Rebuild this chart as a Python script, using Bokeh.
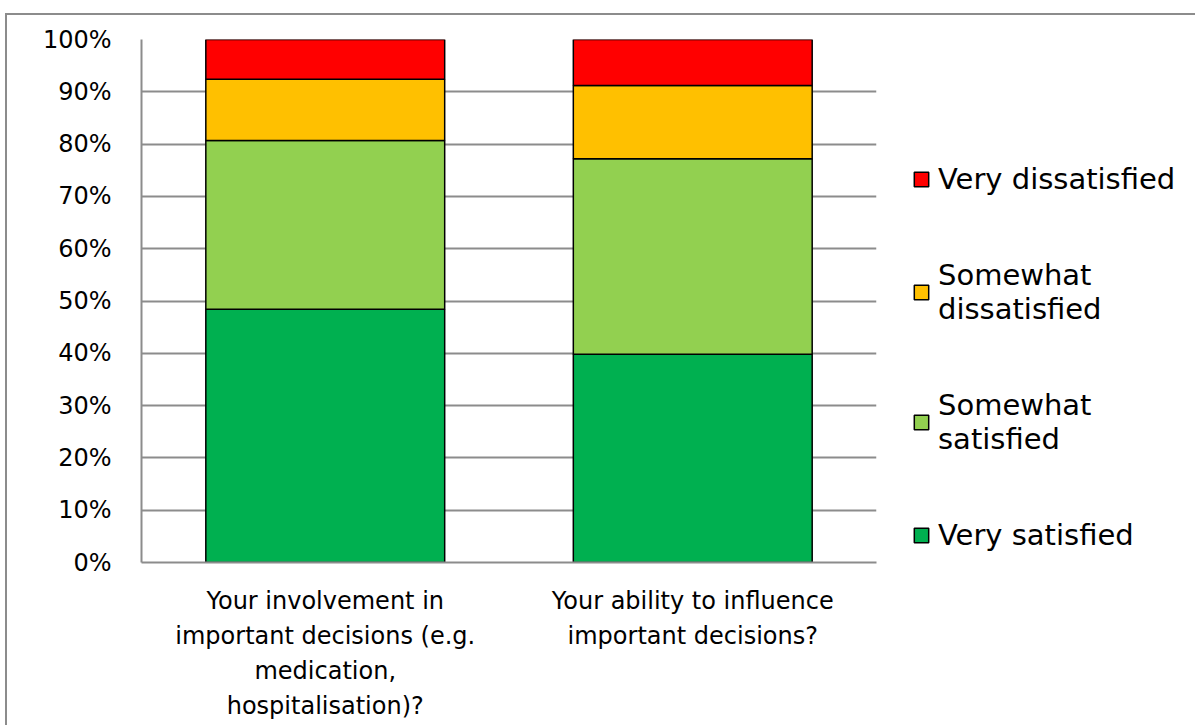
from bokeh.plotting import figure
from bokeh.models import Legend, LegendItem, FactorRange, PrintfTickFormatter, FixedTicker
from bokeh.embed import file_html
from bokeh.resources import INLINE

categories = ["Your involvement in\nimportant decisions (e.g.\nmedication,\nhospitalisation)?",
              "Your ability to influence\nimportant decisions?"]
very_satisfied = [48.4, 39.8]
somewhat_satisfied = [32.3, 37.4]
somewhat_dissatisfied = [11.7, 14.0]
very_dissatisfied = [7.6, 8.8]

series = ["Very satisfied", "Somewhat satisfied", "Somewhat dissatisfied", "Very dissatisfied"]
legend_labels = ["Very satisfied", "Somewhat\nsatisfied", "Somewhat\ndissatisfied", "Very dissatisfied"]
colors = ["#00B050", "#92D050", "#FFC000", "#FF0000"]
y_ticks = [0, 10, 20, 30, 40, 50, 60, 70, 80, 90, 100]

data = {"cat": categories,
        "Very satisfied": very_satisfied,
        "Somewhat satisfied": somewhat_satisfied,
        "Somewhat dissatisfied": somewhat_dissatisfied,
        "Very dissatisfied": very_dissatisfied}

p = figure(x_range=FactorRange(*categories, range_padding=0), y_range=(0, 100),
           frame_width=735, frame_height=523, output_backend="svg", toolbar_location=None,
           min_border_left=134, min_border_top=24, min_border_bottom=163, min_border_right=0,
           margin=(13, 0, 0, 5))
p.styles = {"border-left": "2px solid #8c8c8c", "border-top": "2px solid #8c8c8c"}
p.outline_line_color = None

rs = p.vbar_stack(series, x="cat", width=0.65, source=data, fill_color=colors,
                  line_color="black", line_width=1.5)

p.xgrid.grid_line_color = None
p.ygrid.grid_line_color = "#8c8c8c"
p.ygrid.grid_line_width = 2
p.yaxis.ticker = FixedTicker(ticks=y_ticks)
p.yaxis.formatter = PrintfTickFormatter(format="%d%%")
p.yaxis.minor_tick_line_color = None
p.yaxis.major_tick_line_color = None
p.yaxis.major_tick_out = 0
p.yaxis.major_label_standoff = 30
p.yaxis.axis_line_color = "#8c8c8c"
p.yaxis.axis_line_width = 2
p.yaxis.major_label_text_font = "DejaVu Sans"
p.yaxis.major_label_text_font_size = "24px"
p.yaxis.major_label_text_color = "black"

p.xaxis.major_tick_line_color = None
p.xaxis.major_tick_out = 0
p.xaxis.axis_line_color = "#8c8c8c"
p.xaxis.axis_line_width = 2
p.xaxis.major_label_standoff = 24
p.xaxis.major_label_text_font = "DejaVu Sans"
p.xaxis.major_label_text_font_size = "24px"
p.xaxis.major_label_text_line_height = 1.25
p.xaxis.major_label_text_color = "black"

items = [LegendItem(label=legend_labels[i], renderers=[rs[i]]) for i in range(3, -1, -1)]
legend = Legend(items=items, location=(36, 10), padding=0, margin=0, spacing=62,
                glyph_width=18, glyph_height=18, label_standoff=8,
                label_text_font="DejaVu Sans", label_text_font_size="29px",
                label_text_color="black", border_line_color=None,
                background_fill_alpha=0)
p.add_layout(legend, "right")

open("out.html", "w").write(file_html(p, INLINE))
